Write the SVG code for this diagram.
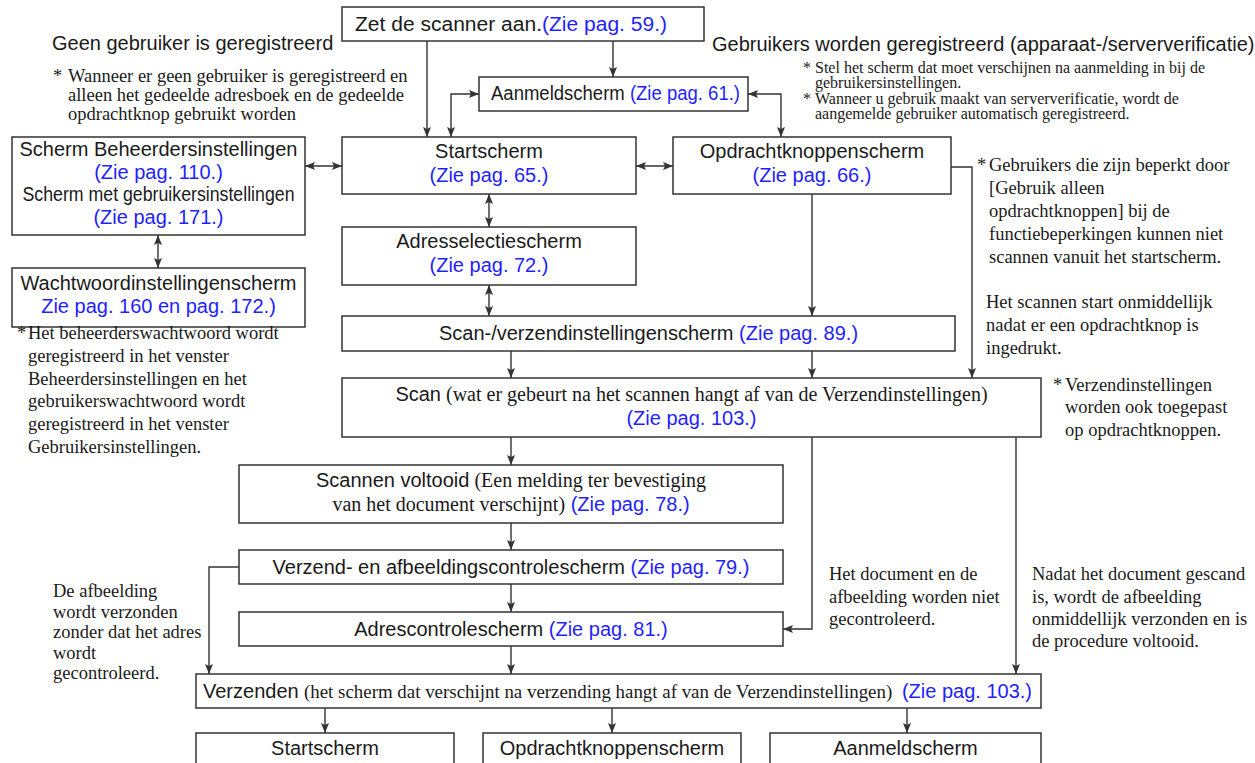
<svg xmlns="http://www.w3.org/2000/svg" width="1255" height="763" viewBox="0 0 1255 763">
<defs>
<style>
.bx{fill:#fff;stroke:#333;stroke-width:1.5}
.t{font-family:"Liberation Sans",Arial,sans-serif;font-size:20px;fill:#1a1a1a}
.m{text-anchor:middle}
.e{text-anchor:end}
.sf{font-family:"Liberation Serif","Times New Roman",serif}
.sf18{font-size:18.9px}
.bl{fill:#1f1fff}
.n{font-family:"Liberation Serif","Times New Roman",serif;font-size:18.5px;fill:#1a1a1a}
.sm{font-size:16px}
.c{fill:none;stroke:#333;stroke-width:1.4}
</style>
<marker id="ah" viewBox="0 0 10 8" refX="10" refY="4" markerWidth="10" markerHeight="8" markerUnits="userSpaceOnUse" orient="auto-start-reverse"><path d="M0,0 L10,4 L0,8 L2,4 z" fill="#333"/></marker>
</defs>
<rect width="1255" height="763" fill="#fff"/>

<g id="connectors">
<path class="c" d="M427,41 V137" marker-end="url(#ah)"/>
<path class="c" d="M613,41 V77" marker-end="url(#ah)"/>
<path class="c" d="M451,137 V94 H479" marker-start="url(#ah)" marker-end="url(#ah)"/>
<path class="c" d="M748,94 H781 V137" marker-start="url(#ah)" marker-end="url(#ah)"/>
<path class="c" d="M305,166 H342" marker-start="url(#ah)" marker-end="url(#ah)"/>
<path class="c" d="M636,166 H673" marker-start="url(#ah)" marker-end="url(#ah)"/>
<path class="c" d="M158,235 V268" marker-start="url(#ah)" marker-end="url(#ah)"/>
<path class="c" d="M489,194 V227" marker-start="url(#ah)" marker-end="url(#ah)"/>
<path class="c" d="M489,285 V316" marker-start="url(#ah)" marker-end="url(#ah)"/>
<path class="c" d="M812,194 V316" marker-end="url(#ah)"/>
<path class="c" d="M951,167 H972 V378" marker-end="url(#ah)"/>
<path class="c" d="M511,351 V378" marker-end="url(#ah)"/>
<path class="c" d="M812,351 V378" marker-end="url(#ah)"/>
<path class="c" d="M511,437 V465" marker-end="url(#ah)"/>
<path class="c" d="M511,523 V550" marker-end="url(#ah)"/>
<path class="c" d="M511,584 V612" marker-end="url(#ah)"/>
<path class="c" d="M511,646 V674" marker-end="url(#ah)"/>
<path class="c" d="M239,567 H209 V674" marker-end="url(#ah)"/>
<path class="c" d="M812,437 V629 H783" marker-end="url(#ah)"/>
<path class="c" d="M1016,437 V674" marker-end="url(#ah)"/>
<path class="c" d="M325,708 V733" marker-end="url(#ah)"/>
<path class="c" d="M612,708 V733" marker-end="url(#ah)"/>
<path class="c" d="M907,708 V733" marker-end="url(#ah)"/>
</g>

<g id="n-zet"><rect class="bx" x="342" y="7" width="362" height="34"/>
<text class="t" x="355" y="31" textLength="312" lengthAdjust="spacingAndGlyphs">Zet de scanner aan.<tspan class="bl">(Zie pag. 59.)</tspan></text></g>

<g id="n-aanmeld"><rect class="bx" x="479" y="77" width="269" height="34"/>
<text class="t" x="491" y="100" textLength="249" lengthAdjust="spacingAndGlyphs">Aanmeldscherm <tspan class="bl">(Zie pag. 61.)</tspan></text></g>

<g id="n-beheer"><rect class="bx" x="12" y="137" width="293" height="98"/>
<text class="t m" x="158.5" y="156">Scherm Beheerdersinstellingen</text>
<text class="t m bl" x="158.5" y="179">(Zie pag. 110.)</text>
<text class="t m" x="158.5" y="201" textLength="272" lengthAdjust="spacingAndGlyphs">Scherm met gebruikersinstellingen</text>
<text class="t m bl" x="158.5" y="224">(Zie pag. 171.)</text></g>

<g id="n-start"><rect class="bx" x="342" y="137" width="294" height="57"/>
<text class="t m" x="489" y="158">Startscherm</text>
<text class="t m bl" x="489" y="182">(Zie pag. 65.)</text></g>

<g id="n-opdracht"><rect class="bx" x="673" y="137" width="278" height="57"/>
<text class="t m" x="812" y="158">Opdrachtknoppenscherm</text>
<text class="t m bl" x="812" y="182">(Zie pag. 66.)</text></g>

<g id="n-adressel"><rect class="bx" x="342" y="227" width="294" height="58"/>
<text class="t m" x="489" y="248">Adresselectiescherm</text>
<text class="t m bl" x="489" y="272">(Zie pag. 72.)</text></g>

<g id="n-wachtwoord"><rect class="bx" x="12" y="268" width="293" height="59"/>
<text class="t m" x="158.5" y="290">Wachtwoordinstellingenscherm</text>
<text class="t m bl" x="158.5" y="313">Zie pag. 160 en pag. 172.)</text></g>

<g id="n-scaninst"><rect class="bx" x="342" y="316" width="613" height="35"/>
<text class="t m" x="648.5" y="340">Scan-/verzendinstellingenscherm <tspan class="bl">(Zie pag. 89.)</tspan></text></g>

<g id="n-scan"><rect class="bx" x="342" y="378" width="699" height="59"/>
<text class="t m" x="691.5" y="401">Scan<tspan class="sf"> (wat er gebeurt na het scannen hangt af van de Verzendinstellingen)</tspan></text>
<text class="t m bl" x="691.5" y="425">(Zie pag. 103.)</text></g>

<g id="n-voltooid"><rect class="bx" x="239" y="465" width="544" height="58"/>
<text class="t m" x="511" y="487">Scannen voltooid<tspan class="sf"> (Een melding ter bevestiging</tspan></text>
<text class="t m" x="511" y="511"><tspan class="sf">van het document verschijnt)</tspan> <tspan class="bl">(Zie pag. 78.)</tspan></text></g>

<g id="n-verzendafb"><rect class="bx" x="239" y="550" width="544" height="34"/>
<text class="t m" x="511" y="574">Verzend- en afbeeldingscontrolescherm <tspan class="bl">(Zie pag. 79.)</tspan></text></g>

<g id="n-adrescontrole"><rect class="bx" x="239" y="612" width="544" height="34"/>
<text class="t m" x="511" y="636">Adrescontrolescherm <tspan class="bl">(Zie pag. 81.)</tspan></text></g>

<g id="n-verzenden"><rect class="bx" x="196" y="674" width="845" height="34"/>
<text class="t" x="203" y="698">Verzenden</text>
<text class="t sf sf18" x="304" y="698">(het scherm dat verschijnt na verzending hangt af van de Verzendinstellingen)</text>
<text class="t e bl" x="1032" y="698">(Zie pag. 103.)</text></g>

<g id="n-start2"><rect class="bx" x="196" y="733" width="258" height="45"/>
<text class="t m" x="325" y="755">Startscherm</text></g>
<g id="n-opdracht2"><rect class="bx" x="483" y="733" width="258" height="45"/>
<text class="t m" x="612" y="755">Opdrachtknoppenscherm</text></g>
<g id="n-aanmeld2"><rect class="bx" x="770" y="733" width="271" height="45"/>
<text class="t m" x="905.5" y="755">Aanmeldscherm</text></g>

<g id="notes">
<text class="t" x="52" y="50">Geen gebruiker is geregistreerd</text>
<text class="n"><tspan x="53" y="82">*</tspan><tspan x="68" y="82">Wanneer er geen gebruiker is geregistreerd en</tspan><tspan x="68" y="101">alleen het gedeelde adresboek en de gedeelde</tspan><tspan x="68" y="120">opdrachtknop gebruikt worden</tspan></text>
<text class="t" x="712" y="51">Gebruikers worden geregistreerd (apparaat-/serververificatie)</text>
<text class="n sm"><tspan x="803" y="73">*</tspan><tspan x="815" y="73">Stel het scherm dat moet verschijnen na aanmelding in bij de</tspan><tspan x="815" y="88">gebruikersinstellingen.</tspan><tspan x="803" y="104">*</tspan><tspan x="815" y="104">Wanneer u gebruik maakt van serververificatie, wordt de</tspan><tspan x="815" y="119">aangemelde gebruiker automatisch geregistreerd.</tspan></text>
<text class="n"><tspan x="977" y="171">*</tspan><tspan x="989" y="171">Gebruikers die zijn beperkt door</tspan><tspan x="989" y="194">[Gebruik alleen</tspan><tspan x="989" y="217">opdrachtknoppen] bij de</tspan><tspan x="989" y="240">functiebeperkingen kunnen niet</tspan><tspan x="989" y="263">scannen vanuit het startscherm.</tspan></text>
<text class="n"><tspan x="986" y="308">Het scannen start onmiddellijk</tspan><tspan x="986" y="331">nadat er een opdrachtknop is</tspan><tspan x="986" y="354">ingedrukt.</tspan></text>
<text class="n"><tspan x="17" y="339">*</tspan><tspan x="28" y="339">Het beheerderswachtwoord wordt</tspan><tspan x="28" y="362">geregistreerd in het venster</tspan><tspan x="28" y="385">Beheerdersinstellingen en het</tspan><tspan x="28" y="407">gebruikerswachtwoord wordt</tspan><tspan x="28" y="430">geregistreerd in het venster</tspan><tspan x="28" y="453">Gebruikersinstellingen.</tspan></text>
<text class="n"><tspan x="1053" y="391">*</tspan><tspan x="1065" y="391">Verzendinstellingen</tspan><tspan x="1065" y="413">worden ook toegepast</tspan><tspan x="1065" y="436">op opdrachtknoppen.</tspan></text>
<text class="n"><tspan x="53" y="597">De afbeelding</tspan><tspan x="53" y="618">wordt verzonden</tspan><tspan x="53" y="638">zonder dat het adres</tspan><tspan x="53" y="659">wordt</tspan><tspan x="53" y="679">gecontroleerd.</tspan></text>
<text class="n"><tspan x="829" y="580">Het document en de</tspan><tspan x="829" y="603">afbeelding worden niet</tspan><tspan x="829" y="625">gecontroleerd.</tspan></text>
<text class="n"><tspan x="1032" y="580">Nadat het document gescand</tspan><tspan x="1032" y="603">is, wordt de afbeelding</tspan><tspan x="1032" y="625">onmiddellijk verzonden en is</tspan><tspan x="1032" y="647">de procedure voltooid.</tspan></text>
</g>
</svg>
